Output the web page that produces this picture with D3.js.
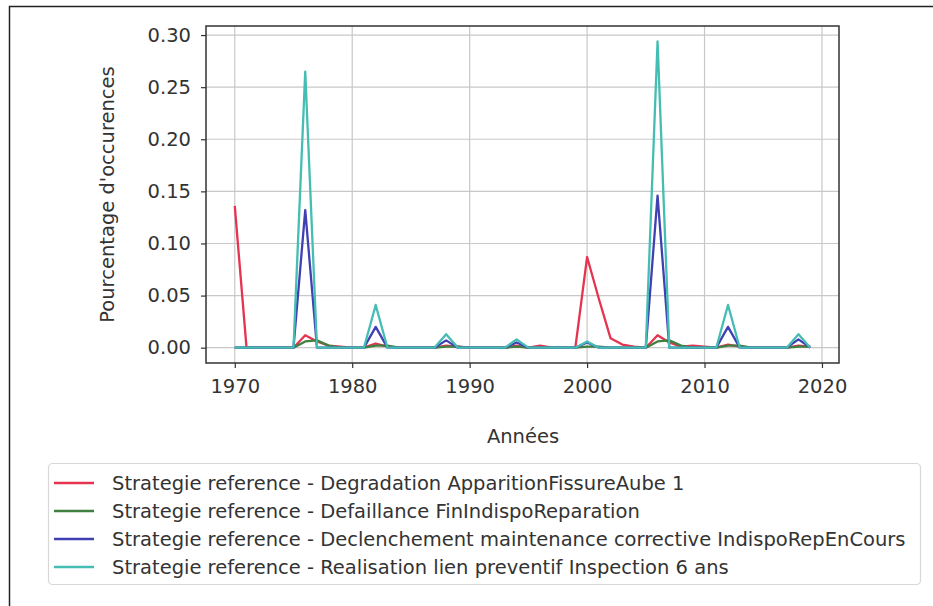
<!DOCTYPE html>
<html>
<head>
<meta charset="utf-8">
<script src="https://cdn.jsdelivr.net/npm/d3@7"></script>
<style>
  html, body { margin: 0; padding: 0; background: #fff; }
  svg { display: block; font-family: "DejaVu Sans", sans-serif; }
</style>
</head>
<body>
<svg id="chart" width="933" height="606"></svg>
<script>
// Years covered by the simulation
const years = d3.range(1970, 2020);

// Share of occurrences per year, one array per event type (1970 .. 2019)
const degradation = [
  0.136, 0, 0, 0, 0, 0, 0.012, 0.006, 0.002, 0.001,
  0, 0, 0.004, 0.001, 0, 0, 0, 0, 0.002, 0.001,
  0, 0, 0, 0, 0.002, 0, 0.002, 0, 0, 0,
  0.087, 0.047, 0.009, 0.003, 0.001, 0, 0.012, 0.005, 0.001, 0.002,
  0.001, 0, 0.003, 0.001, 0, 0, 0, 0, 0.002, 0.001
];
const defaillance = [
  0, 0, 0, 0, 0, 0, 0.006, 0.007, 0.002, 0,
  0, 0, 0.002, 0.002, 0, 0, 0, 0, 0.001, 0.001,
  0, 0, 0, 0, 0.001, 0, 0, 0, 0, 0,
  0.001, 0.001, 0, 0, 0, 0, 0.006, 0.007, 0.002, 0,
  0, 0, 0.002, 0.002, 0, 0, 0, 0, 0.001, 0.001
];
const declenchement = [
  0, 0, 0, 0, 0, 0, 0.132, 0, 0, 0,
  0, 0, 0.020, 0, 0, 0, 0, 0, 0.007, 0,
  0, 0, 0, 0, 0.005, 0, 0, 0, 0, 0,
  0.005, 0, 0, 0, 0, 0, 0.146, 0, 0, 0,
  0, 0, 0.020, 0, 0, 0, 0, 0, 0.008, 0
];
const realisation = [
  0, 0, 0, 0, 0, 0, 0.265, 0, 0, 0,
  0, 0, 0.041, 0, 0, 0, 0, 0, 0.013, 0,
  0, 0, 0, 0, 0.008, 0, 0, 0, 0, 0,
  0.006, 0, 0, 0, 0, 0, 0.294, 0, 0, 0,
  0, 0, 0.041, 0, 0, 0, 0, 0, 0.013, 0
];

const seriesNames = [
  "Strategie reference - Degradation ApparitionFissureAube 1",
  "Strategie reference - Defaillance FinIndispoReparation",
  "Strategie reference - Declenchement maintenance corrective IndispoRepEnCours",
  "Strategie reference - Realisation lien preventif Inspection 6 ans"
];
const seriesColors = ["#e4344f", "#3f7f3f", "#4040b4", "#45bdb3"];
const seriesValues = [degradation, defaillance, declenchement, realisation];

const xTicks = [1970, 1980, 1990, 2000, 2010, 2020];
const yTicks = [0.00, 0.05, 0.10, 0.15, 0.20, 0.25, 0.30];

const FONT = "19.5px";
const svg = d3.select("#chart");

// Outer frame
svg.append("path")
  .attr("d", "M9.5,606 V6.5 H933")
  .attr("fill", "none").attr("stroke", "#222").attr("stroke-width", 1.5);

const plot = { left: 206, right: 839, top: 26, bottom: 363 };

// 5% margin around the data range on both axes
const xExt = d3.extent(years);
const xPad = (xExt[1] - xExt[0]) * 0.05;
const yMax = d3.max(seriesValues.flat());
const yPad = yMax * 0.05;

const x = d3.scaleLinear()
  .domain([xExt[0] - xPad, xExt[1] + xPad])
  .range([plot.left, plot.right]);
const y = d3.scaleLinear()
  .domain([-yPad, yMax + yPad])
  .range([plot.bottom, plot.top]);

// Grid
const grid = svg.append("g");
grid.selectAll("line.gx").data(xTicks.filter(t => x(t) <= plot.right)).join("line")
  .attr("x1", d => x(d)).attr("x2", d => x(d))
  .attr("y1", plot.top).attr("y2", plot.bottom)
  .attr("stroke", "#c8c8c8").attr("stroke-width", 1.2);
grid.selectAll("line.gy").data(yTicks).join("line")
  .attr("y1", d => y(d)).attr("y2", d => y(d))
  .attr("x1", plot.left).attr("x2", plot.right)
  .attr("stroke", "#c8c8c8").attr("stroke-width", 1.2);

// Axes
const xAxis = svg.append("g")
  .attr("transform", `translate(0,${plot.bottom})`)
  .call(d3.axisBottom(x).tickValues(xTicks).tickFormat(d3.format("d")).tickSize(5).tickPadding(11));
const yAxis = svg.append("g")
  .attr("transform", `translate(${plot.left},0)`)
  .call(d3.axisLeft(y).tickValues(yTicks).tickFormat(d3.format(".2f")).tickSize(5).tickPadding(10));
[xAxis, yAxis].forEach(a => {
  a.select(".domain").remove();
  a.selectAll(".tick line").attr("stroke", "#333").attr("stroke-width", 1.2);
  a.selectAll(".tick text")
    .attr("fill", "#333")
    .style("font-size", FONT)
    .style("font-family", "'DejaVu Sans', sans-serif");
});

// Series lines
const line = d3.line()
  .x((d, i) => x(years[i]))
  .y(d => y(d));
svg.append("clipPath").attr("id", "plotclip")
  .append("rect")
  .attr("x", plot.left).attr("y", plot.top)
  .attr("width", plot.right - plot.left).attr("height", plot.bottom - plot.top);
const lines = svg.append("g")
  .attr("clip-path", "url(#plotclip)");
lines.selectAll("path").data(seriesValues).join("path")
  .attr("d", d => line(d))
  .attr("fill", "none")
  .attr("stroke", (d, i) => seriesColors[i])
  .attr("stroke-width", 2.3)
  .attr("stroke-linejoin", "round");

// Axes frame
svg.append("rect")
  .attr("x", plot.left).attr("y", plot.top)
  .attr("width", plot.right - plot.left).attr("height", plot.bottom - plot.top)
  .attr("fill", "none").attr("stroke", "#333").attr("stroke-width", 1.5);

// Axis titles
svg.append("text")
  .attr("x", 523).attr("y", 443)
  .attr("text-anchor", "middle")
  .attr("fill", "#333")
  .style("font-size", FONT)
  .text("Années");
svg.append("text")
  .attr("transform", `translate(114,${(plot.top + plot.bottom) / 2}) rotate(-90)`)
  .attr("text-anchor", "middle")
  .attr("fill", "#333")
  .style("font-size", FONT)
  .text("Pourcentage d'occurences");

// Legend
const legend = svg.append("g");
legend.append("rect")
  .attr("x", 48.5).attr("y", 463.5)
  .attr("width", 872).attr("height", 121)
  .attr("rx", 4)
  .attr("fill", "#fff").attr("stroke", "#d8d8d8").attr("stroke-width", 1.2);
const rows = legend.selectAll("g.row").data(seriesNames).join("g")
  .attr("transform", (d, i) => `translate(0,${483 + i * 28})`);
rows.append("line")
  .attr("x1", 54).attr("x2", 94)
  .attr("stroke", (d, i) => seriesColors[i])
  .attr("stroke-width", 2.3);
rows.append("text")
  .attr("x", 112).attr("dy", "0.35em")
  .attr("fill", "#333")
  .style("font-size", FONT)
  .text(d => d);
</script>
</body>
</html>
